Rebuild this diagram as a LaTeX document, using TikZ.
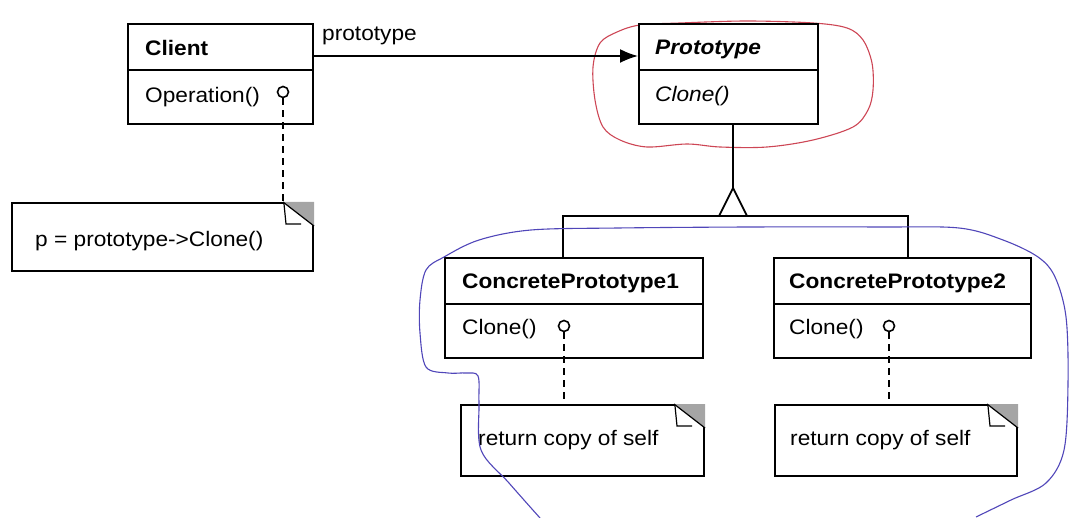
\documentclass[tikz,border=0pt]{standalone}
\usepackage{fontspec}
\setmainfont{Liberation Sans}[FakeStretch=1.08]
\usetikzlibrary{calc,arrows.meta}
\definecolor{penred}{RGB}{205,70,85}
\definecolor{penblue}{RGB}{80,70,185}
\definecolor{foldgray}{RGB}{165,165,165}
\newcommand\foldcorner[1]{%
  \fill[foldgray] ($(#1.north east)+(-31,0)$) -- (#1.north east) -- ($(#1.north east)+(0,24)$) -- cycle;
  \draw[line width=1.2pt] ($(#1.north east)+(-31,0)$) -- ($(#1.north east)+(0,24)$);
  \draw[line width=1.2pt] ($(#1.north east)+(-30,2)$) -- ($(#1.north east)+(-28,22)$) -- ($(#1.north east)+(-13,22)$);
}
\begin{document}
\begin{tikzpicture}[x=1pt,y=-1pt,
  box/.style={draw, line width=2pt, inner sep=0pt, fill=white},
  divider/.style={line width=2pt},
  lbl/.style={anchor=west, inner sep=0pt, font=\fontsize{21}{25}\selectfont},
  pin/.style={circle, draw, line width=1.6pt, minimum size=11pt, inner sep=0pt, fill=white},
  conn/.style={line width=1.8pt},
  dconn/.style={line width=1.7pt, dash pattern=on 7pt off 5pt},
  redpen/.style={draw=penred, line width=1.1pt},
  bluepen/.style={draw=penblue, line width=1.1pt}]
\useasboundingbox (0,0) rectangle (1083,518);

% hand-drawn annotation (behind)
\draw[redpen] plot[smooth cycle, tension=0.55] coordinates {(640,25) (680,23) (747,21) (813,23) (847,28) (863,40) (872,63) (873,90) (868,110) (853,127) (813,140) (767,147) (720,147) (687,144) (647,147) (620,140) (603,127) (595,100) (593,67) (600,43) (617,32)};

% class boxes
\node[box, minimum width=185pt, minimum height=100pt] (client) at (220.5,74) {};
\draw[divider] ($(client.north west)+(0,47)$) -- ($(client.north east)+(0,47)$);
\node[lbl] (clientname) at (145,48) {\bfseries Client};
\node[lbl] (clientop) at (145,97) {Operation()};
\node[pin] (clientpin) at (283,92) {};

\node[box, minimum width=179pt, minimum height=100pt] (proto) at (728.5,74) {};
\draw[divider] ($(proto.north west)+(0,47)$) -- ($(proto.north east)+(0,47)$);
\node[lbl] (protoname) at (655,49) {\bfseries\itshape Prototype};
\node[lbl] (protoop) at (655,96) {\itshape Clone()};

\node[box, minimum width=258pt, minimum height=100pt] (cp1) at (574,308) {};
\draw[divider] ($(cp1.north west)+(0,47)$) -- ($(cp1.north east)+(0,47)$);
\node[lbl] (cp1name) at (462,283) {\bfseries ConcretePrototype1};
\node[lbl] (cp1op) at (462,329) {Clone()};
\node[pin] (cp1pin) at (564,326) {};

\node[box, minimum width=257pt, minimum height=100pt] (cp2) at (902.5,308) {};
\draw[divider] ($(cp2.north west)+(0,47)$) -- ($(cp2.north east)+(0,47)$);
\node[lbl] (cp2name) at (789,283) {\bfseries ConcretePrototype2};
\node[lbl] (cp2op) at (789,329) {Clone()};
\node[pin] (cp2pin) at (889,326) {};

% notes
\node[box, minimum width=301pt, minimum height=68pt] (notec) at (162.5,237) {};
\node[lbl] (notectext) at (35,241) {p = prototype->Clone()};
\foldcorner{notec}
\node[box, minimum width=243pt, minimum height=71pt] (note1) at (582.5,440.5) {};
\node[lbl] (note1text) at (478,440) {return copy of self};
\foldcorner{note1}
\node[box, minimum width=242pt, minimum height=71pt] (note2) at (896,440.5) {};
\node[lbl] (note2text) at (790,440) {return copy of self};
\foldcorner{note2}

% dashed note links
\draw[dconn] (clientpin.south) -- (clientpin.south |- notec.north);
\draw[dconn] (cp1pin.south) -- (cp1pin.south |- note1.north);
\draw[dconn] (cp2pin.south) -- (cp2pin.south |- note2.north);

% association
\draw[conn, -{Latex[length=18pt,width=14pt]}] ($(client.north east)+(0,33)$) -- ($(proto.north west)+(0,33)$);
\node[lbl] (assoclabel) at (322,36) {prototype};

% inheritance
\coordinate (apex) at (733,188);
\coordinate (barL) at (563,216);
\coordinate (barR) at (908,216);
\draw[conn] (proto.south -| apex) -- (apex);
\draw[conn] (cp1.north -| barL) -- (barL) -- (barR) -- (cp2.north -| barR);
\draw[conn, fill=white] (apex) -- ++(-14,28) -- ++(28,0) -- cycle;

% blue hand-drawn curve (over)
\draw[bluepen] plot[smooth, tension=0.55] coordinates {(540,518) (509,483) (481,450) (479,403) (478,376) (466,373) (448,373) (426,367) (420,333) (420,300) (426,270) (444,257) (479,240) (531,230) (618,228) (749,227) (880,227) (959,228) (1003,240) (1038,257) (1055,277) (1066,317) (1068,383) (1064,450) (1046,483) (1011,500) (976,517)};
\end{tikzpicture}
\end{document}
